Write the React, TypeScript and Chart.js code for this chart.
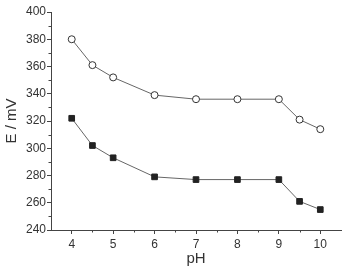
import React, { useEffect, useRef } from "react";
import { Chart, registerables } from "chart.js";

Chart.register(...registerables);

const phValues = [4, 4.5, 5, 6, 7, 8, 9, 9.5, 10];
const openSeries = [380, 361, 352, 339, 336, 336, 336, 321, 314];
const filledSeries = [322, 302, 293, 279, 277, 277, 277, 261, 255];
const xTickValues = [4, 5, 6, 7, 8, 9, 10];
const xMinorValues = [4.5, 5.5, 6.5, 7.5, 8.5, 9.5];
const yTickValues = [240, 260, 280, 300, 320, 340, 360, 380, 400];
const yMinorValues = [250, 270, 290, 310, 330, 350, 370, 390];

const minorTicks = {
  id: "minorTicks",
  afterDraw(chart: any) {
    const ctx = chart.ctx;
    const xs = chart.scales.x;
    const ys = chart.scales.y;
    ctx.save();
    ctx.strokeStyle = "#444";
    ctx.lineWidth = 1;
    ctx.beginPath();
    for (const v of xMinorValues) {
      const px = Math.round(xs.getPixelForValue(v)) + 0.5;
      ctx.moveTo(px, xs.top);
      ctx.lineTo(px, xs.top + 2.5);
    }
    for (const v of yMinorValues) {
      const py = Math.round(ys.getPixelForValue(v)) + 0.5;
      ctx.moveTo(ys.right, py);
      ctx.lineTo(ys.right - 2.5, py);
    }
    ctx.stroke();
    ctx.restore();
  },
};

export default function App() {
  const ref = useRef<HTMLCanvasElement | null>(null);
  useEffect(() => {
    if (!ref.current) return;
    const family = "'Liberation Sans', Arial, sans-serif";
    const font = { family, size: 12 };
    const chart = new Chart(ref.current, {
      type: "scatter",
      data: {
        datasets: [
          {
            data: phValues.map((x, i) => ({ x, y: openSeries[i] })),
            showLine: true,
            borderColor: "#666",
            borderWidth: 1,
            pointStyle: "circle",
            pointRadius: 3.5,
            pointBackgroundColor: "#fff",
            pointBorderColor: "#333",
            pointBorderWidth: 1,
          },
          {
            data: phValues.map((x, i) => ({ x, y: filledSeries[i] })),
            showLine: true,
            borderColor: "#666",
            borderWidth: 1,
            pointStyle: "rect",
            pointRadius: 4,
            pointBackgroundColor: "#222",
            pointBorderColor: "#222",
            pointBorderWidth: 1,
          },
        ],
      },
      options: {
        animation: false,
        responsive: false,
        maintainAspectRatio: false,
        layout: { padding: { top: 12, right: 1, left: 0, bottom: 0 } },
        plugins: { legend: { display: false }, tooltip: { enabled: false } },
        scales: {
          x: {
            type: "linear",
            min: 3.5,
            max: 10.5,
            afterBuildTicks: (s: any) => {
              s.ticks = xTickValues.map((v) => ({ value: v }));
            },
            afterFit: (s: any) => {
              s.height = 37;
            },
            grid: {
              drawOnChartArea: false,
              tickLength: 4,
              color: "#444",
              tickColor: "#444",
            },
            border: { color: "#444", width: 1 },
            ticks: { color: "#333", font, padding: 3, maxRotation: 0 },
            title: {
              display: true,
              text: "pH",
              color: "#333",
              font: { family, size: 15, lineHeight: 1.1 },
              padding: { top: 0, bottom: 0 },
            },
          },
          y: {
            type: "linear",
            min: 240,
            max: 400,
            afterBuildTicks: (s: any) => {
              s.ticks = yTickValues.map((v) => ({ value: v }));
            },
            afterFit: (s: any) => {
              s.width = 51;
            },
            grid: {
              drawOnChartArea: false,
              tickLength: 4,
              color: "#444",
              tickColor: "#444",
            },
            border: { color: "#444", width: 1 },
            ticks: { color: "#333", font, padding: 1 },
            title: {
              display: true,
              text: "E / mV",
              color: "#333",
              font: { family, size: 15 },
              padding: { top: 3, bottom: 0 },
            },
          },
        },
      },
      plugins: [minorTicks],
    });
    return () => chart.destroy();
  }, []);
  return (
    <div style={{ position: "fixed", left: 0, top: 0, width: 346, height: 267, background: "#fff" }}>
      <canvas ref={ref} width={346} height={267} style={{ display: "block" }} />
    </div>
  );
}
